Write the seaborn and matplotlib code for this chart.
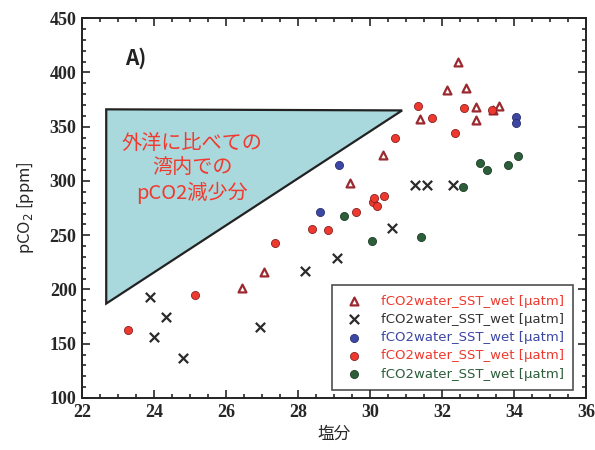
import matplotlib
matplotlib.use("Agg")
import matplotlib.pyplot as plt
import seaborn as sns
import numpy as np
from matplotlib.ticker import MultipleLocator
from matplotlib.patches import Polygon

sns.set_theme(style="ticks")
plt.rcParams['font.family'] = ['Noto Sans CJK JP', 'DejaVu Sans']

# --- data ---
tri_x = [32.44, 32.14, 32.67, 32.94, 33.42, 33.58, 31.39, 32.94, 30.36, 29.44, 27.06, 26.44]
tri_y = [410, 384, 386, 368, 365, 369, 357, 356, 324, 298, 216, 201]

x_x = [23.89, 24.33, 24.0, 24.81, 26.94, 28.19, 29.08, 30.61, 31.25, 31.58, 32.31]
x_y = [193, 175, 156, 137, 165, 217, 229, 257, 296, 296, 296]

blue_x = [29.14, 28.61, 34.05, 34.05]
blue_y = [315, 271, 359, 353]

red_x = [23.28, 25.14, 27.36, 28.39, 28.83, 29.61, 30.08, 30.19, 30.39, 30.1,
         30.69, 31.33, 31.72, 32.61, 32.36, 33.39]
red_y = [163, 195, 243, 256, 255, 271, 281, 277, 286, 284,
         340, 369, 358, 367, 344, 365]

green_x = [29.28, 30.06, 31.42, 33.06, 33.25, 33.83, 34.1, 32.58]
green_y = [268, 245, 248, 317, 310, 315, 323, 294]

series_label = "fCO2water_SST_wet [\u00b5atm]"
shade_x = [22.67, 30.89, 22.67]
shade_y = [366, 365, 187]
note_text = "外洋に比べての\n湾内での\npCO2減少分"
panel_text = "A)"
x_ticks = [22, 24, 26, 28, 30, 32, 34, 36]
y_ticks = [100, 150, 200, 250, 300, 350, 400, 450]

# --- figure ---
fig = plt.figure(figsize=(5.95, 4.5), dpi=100)
ax = fig.add_axes([0.138, 0.1156, 0.847, 0.844])

poly = Polygon(np.column_stack([shade_x, shade_y]), closed=True,
               facecolor="#a9d9dc", edgecolor="#222222", linewidth=1.6, zorder=1)
ax.add_patch(poly)

red = "#ee3a2e"
sns.scatterplot(x=tri_x, y=tri_y, marker="^", s=32, facecolors="white",
                edgecolor="#9a2a30", linewidth=1.6, ax=ax, label=series_label, zorder=3)
sns.scatterplot(x=x_x, y=x_y, marker="x", s=45, color="#2b2b2b",
                linewidth=1.6, ax=ax, label=series_label, zorder=3)
sns.scatterplot(x=blue_x, y=blue_y, marker="o", s=34, color="#3b47a3",
                edgecolor="#2a3070", linewidth=0.6, ax=ax, label=series_label, zorder=3)
sns.scatterplot(x=red_x, y=red_y, marker="o", s=34, color=red,
                edgecolor="#8a2020", linewidth=0.6, ax=ax, label=series_label, zorder=3)
sns.scatterplot(x=green_x, y=green_y, marker="o", s=34, color="#2c5e3a",
                edgecolor="#1d3d26", linewidth=0.6, ax=ax, label=series_label, zorder=3)

ax.set_xlim(22, 36)
ax.set_ylim(100, 450)
ax.set_xticks(x_ticks)
ax.set_yticks(y_ticks)
ax.xaxis.set_minor_locator(MultipleLocator(0.5))
ax.yaxis.set_minor_locator(MultipleLocator(10))
ax.tick_params(which="both", direction="in", top=True, right=True, width=1.2)
ax.tick_params(which="major", length=6, labelsize=13, pad=4)
ax.tick_params(which="minor", length=3)
for lab in ax.get_xticklabels() + ax.get_yticklabels():
    lab.set_fontfamily("Liberation Serif")
    lab.set_fontweight("bold")
for sp in ax.spines.values():
    sp.set_linewidth(1.4)
    sp.set_color("#222222")

ax.set_xlabel("塩分", fontsize=12, labelpad=4)
ax.set_ylabel("pCO$_2$ [ppm]", fontsize=12, labelpad=10)

ax.text(25.06, 311.5, note_text, color="#f03a30", fontsize=14.5, ha="center",
        va="center", linespacing=1.2, zorder=4)
ax.text(23.5, 413, panel_text, fontsize=15, fontweight="bold", ha="center",
        va="center", color="#222222")

leg = ax.legend(loc="lower right", bbox_to_anchor=(0.974, 0.021), frameon=True,
                fancybox=False, edgecolor="#222222",
                handletextpad=1.0, labelspacing=0.4, borderpad=0.7,
                borderaxespad=0.0,
                prop={"family": ["Liberation Sans Narrow", "DejaVu Sans"], "size": 9.5})
leg.get_frame().set_linewidth(1.2)
text_colors = ["#ee3a2e", "#333333", "#3b47a3", "#ee3a2e", "#2c5e3a"]
for t, c in zip(leg.get_texts(), text_colors):
    t.set_color(c)

fig.savefig("out.png", dpi=100)
